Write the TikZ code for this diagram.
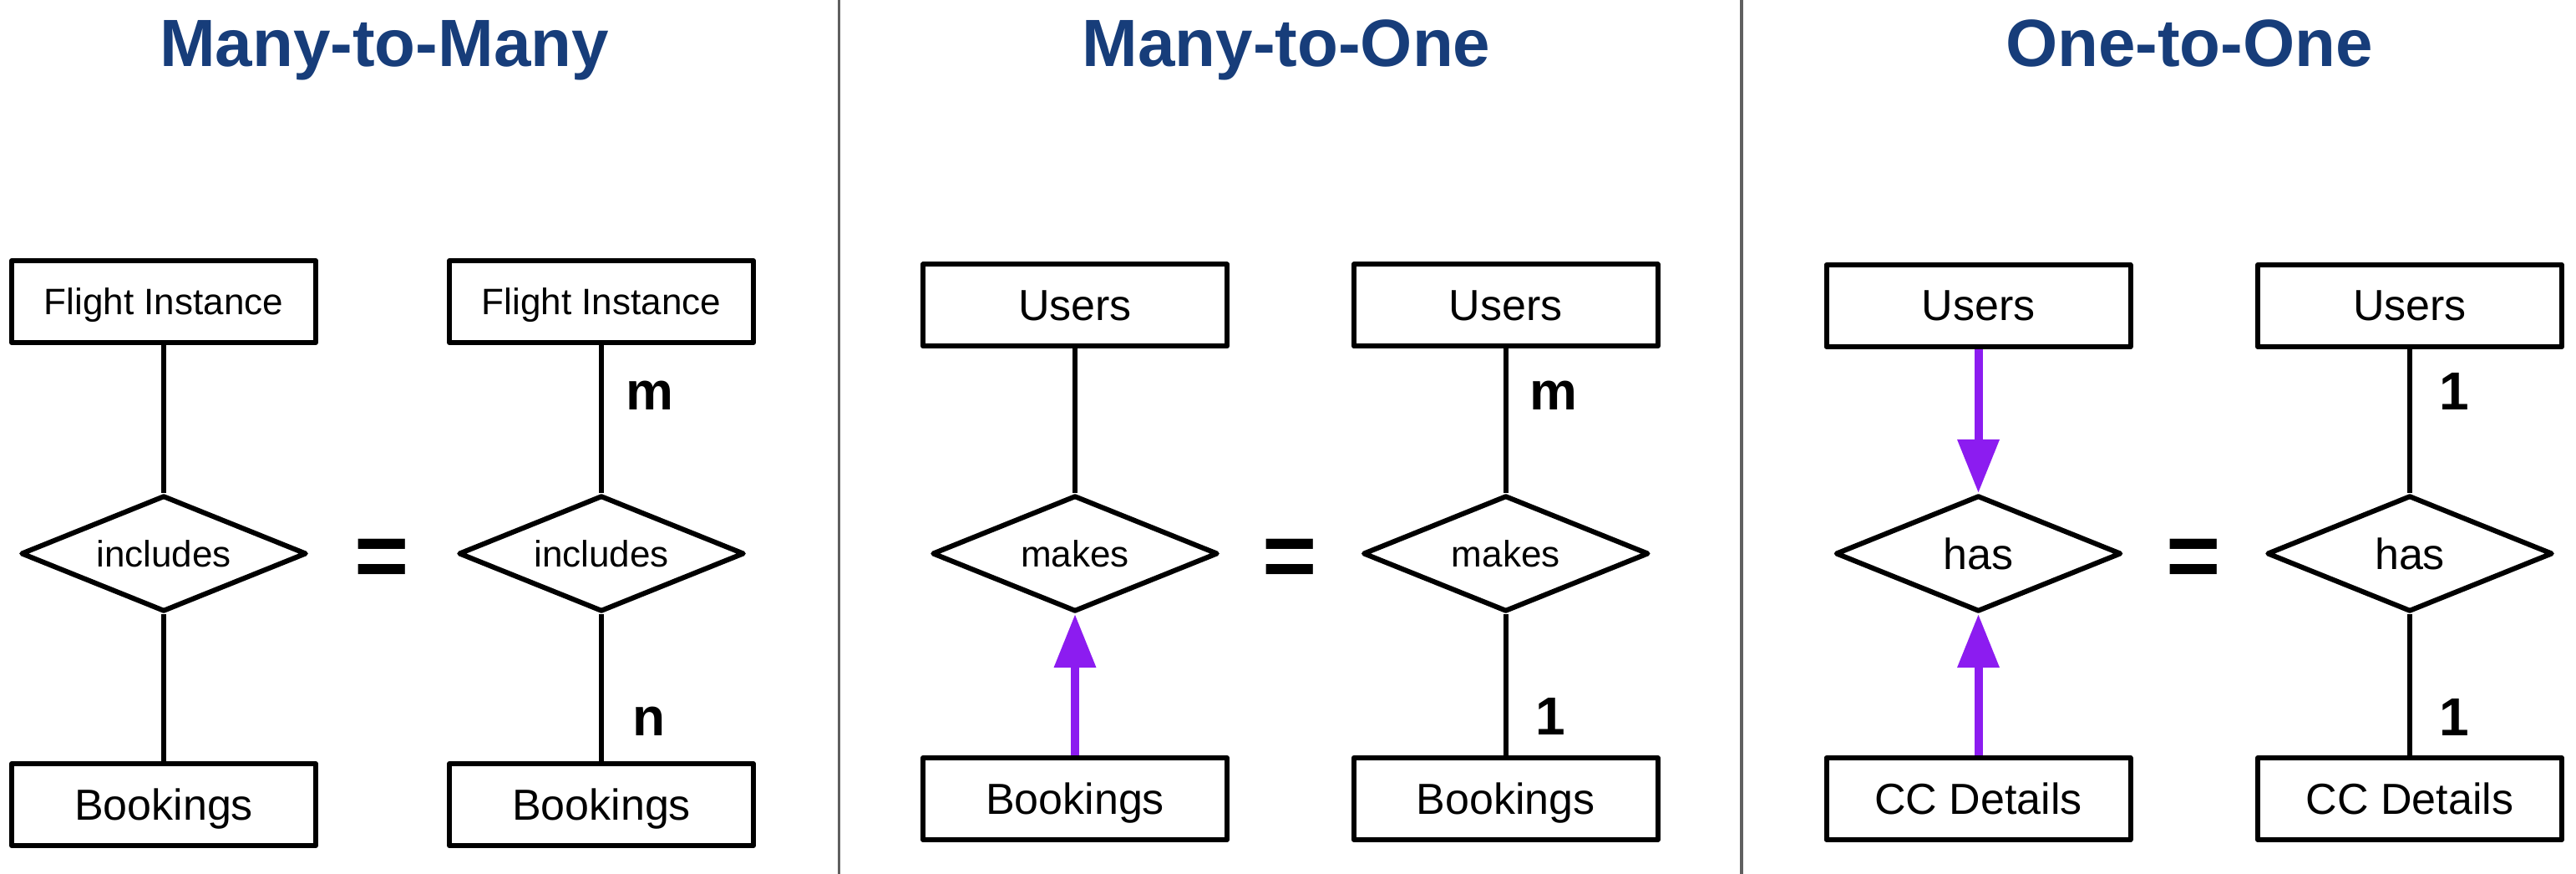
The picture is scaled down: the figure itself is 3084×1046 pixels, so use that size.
\documentclass[tikz,border=0pt]{standalone}
\usepackage{fontspec}
\setmainfont{Liberation Sans}
\usetikzlibrary{shapes.geometric,arrows.meta}
\definecolor{titleblue}{HTML}{173D7A}
\definecolor{arrowpurple}{HTML}{8C1CF0}
\definecolor{divgray}{HTML}{606060}
\begin{document}
\begin{tikzpicture}[x=0.25pt,y=-0.25pt,
  entity/.style={draw, line width=1.5pt, line join=round, minimum width=91pt, minimum height=24.5pt, inner sep=0pt, text depth=0pt},
  bigtext/.style={font=\fontsize{13pt}{15pt}\selectfont},
  smalltext/.style={font=\fontsize{11pt}{13pt}\selectfont},
  relation/.style={draw, diamond, shape aspect=2.46, line width=1.5pt, line join=round, minimum width=85.5pt, minimum height=34.75pt, inner sep=0pt, text depth=0pt},
  link/.style={line width=1.5pt},
  dirarrow/.style={draw=arrowpurple, line width=2.5pt, -{Triangle[width=12pt,length=16pt]}},
  card/.style={font=\fontsize{16pt}{18pt}\selectfont\bfseries, anchor=base, inner sep=0pt},
  eqsign/.style={font=\fontsize{28pt}{30pt}\selectfont\bfseries, anchor=base, inner sep=0pt},
  title/.style={font=\fontsize{20pt}{24pt}\selectfont\bfseries, text=titleblue, anchor=base, inner sep=0pt},
  divider/.style={draw=divgray, line width=0.85pt}
]
\fill[white] (0,0) rectangle (3084,1046);
\useasboundingbox (0,0) rectangle (3084,1046);

% dividers
\coordinate (dAtop) at (1004.5,0);
\coordinate (dAbot) at (1004.5,1046);
\coordinate (dBtop) at (2085,0);
\coordinate (dBbot) at (2085,1046);
\draw[divider] (dAtop) -- (dAbot);
\draw[divider] (dBtop) -- (dBbot);

% titles
\node[title] (tA) at (460,80) {Many-to-Many};
\node[title] (tB) at (1540,80) {Many-to-One};
\node[title] (tC) at (2621,80) {One-to-One};

% Panel 1
\node[entity,smalltext] (fiA) at (196,361) {Flight Instance};
\node[relation,smalltext] (incA) at (196,662.5) {includes};
\node[entity,bigtext] (bkA) at (196,963) {Bookings};
\node[entity,smalltext] (fiB) at (720,361) {Flight Instance};
\node[relation,smalltext] (incB) at (720,662.5) {includes};
\node[entity,bigtext] (bkB) at (720,963) {Bookings};
\node[eqsign] (eqA) at (457,704) {=};
\draw[link] (fiA.south) -- (incA.north);
\draw[link] (incA.south) -- (bkA.north);
\draw[link] (fiB.south) -- (incB.north);
\draw[link] (incB.south) -- (bkB.north);
\node[card] (mA) at (778,491) {m};
\node[card] (nA) at (777,881) {n};

% Panel 2
\node[entity,bigtext] (usA) at (1287,365.5) {Users};
\node[relation,smalltext] (mkA) at (1287,662.5) {makes};
\node[entity,bigtext] (bkC) at (1287,956) {Bookings};
\node[entity,bigtext] (usB) at (1802.75,365.5) {Users};
\node[relation,smalltext] (mkB) at (1802.75,662.5) {makes};
\node[entity,bigtext] (bkD) at (1802.75,956) {Bookings};
\node[eqsign] (eqB) at (1544,704) {=};
\draw[link] (usA.south) -- (mkA.north);
\draw[dirarrow] (bkC.north) -- (mkA.south);
\draw[link] (usB.south) -- (mkB.north);
\draw[link] (mkB.south) -- (bkD.north);
\node[card] (mB) at (1860,491) {m};
\node[card] (oB) at (1856.5,880) {1};

% Panel 3
\node[entity,bigtext] (usC) at (2368.5,366) {Users};
\node[relation,bigtext] (hsA) at (2368.5,662.5) {has};
\node[entity,bigtext] (ccA) at (2368.5,956) {CC Details};
\node[entity,bigtext] (usD) at (2885,366) {Users};
\node[relation,bigtext] (hsB) at (2885,662.5) {has};
\node[entity,bigtext] (ccB) at (2885,956) {CC Details};
\node[eqsign] (eqC) at (2626,704) {=};
\draw[dirarrow] (usC.south) -- (hsA.north);
\draw[dirarrow] (ccA.north) -- (hsA.south);
\draw[link] (usD.south) -- (hsB.north);
\draw[link] (hsB.south) -- (ccB.north);
\node[card] (oC) at (2938.5,491) {1};
\node[card] (oD) at (2938.5,881) {1};
\end{tikzpicture}
\end{document}
